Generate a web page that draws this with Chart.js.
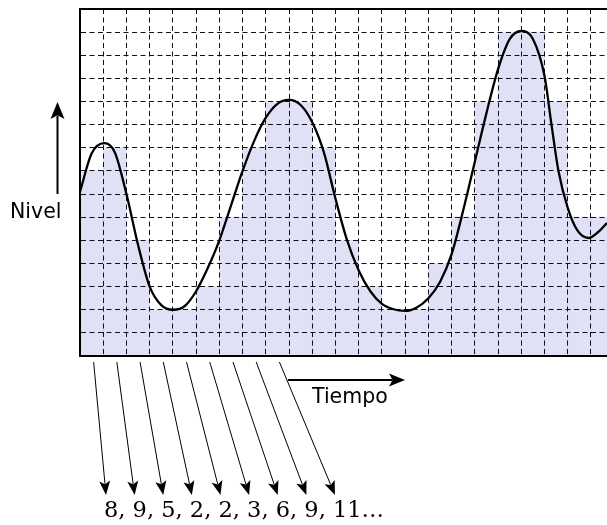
<!DOCTYPE html>
<html>
<head>
<meta charset="utf-8">
<script src="https://cdn.jsdelivr.net/npm/chart.js@4.4.1/dist/chart.umd.min.js"></script>
<style>
  html, body { margin: 0; padding: 0; background: #fff; }
  #wrap { width: 607px; height: 525px; position: relative; }
</style>
</head>
<body>
<div id="wrap"><canvas id="chart-sampling"></canvas></div>
<script>
// ============================================
// DATA
// ============================================

// quantised level of each time slot (one bar per grid column)
const columnLevels = [8, 9, 5, 2, 2, 3, 6, 9, 11, 11, 9, 5, 3, 2, 2, 4, 6, 11, 14, 14, 11, 6, 6];

// analogue signal (time in columns, level in grid steps)
const curveTime = [0, 0.5, 1.05, 1.5, 2.0, 2.5, 3.0, 3.5, 4.0,
    4.5, 5.0, 5.5, 6.0, 6.5, 7.0, 7.5, 8.0, 8.5, 9.0,
    9.5, 10.0, 10.5, 11.0, 11.5, 12.0, 12.5, 13.0, 13.5, 14.0,
    14.5, 15.0, 15.5, 16.0, 16.5, 17.0, 17.5, 18.0, 18.5, 19.0,
    19.5, 20.0, 20.3, 20.6, 21.0, 21.4, 21.9, 22.3, 22.69];
const curveLevel = [7.1, 8.75, 9.2, 8.8, 7.0, 4.8, 3.0, 2.2, 2.0,
    2.15, 2.8, 3.8, 5.0, 6.5, 8.0, 9.3, 10.3, 10.9, 11.07,
    10.85, 10.1, 8.8, 6.8, 5.0, 3.7, 2.8, 2.25, 2.02, 1.95,
    2.1, 2.5, 3.2, 4.4, 6.3, 8.4, 10.5, 12.4, 13.7, 14.05,
    13.7, 12.1, 10.0, 8.0, 6.4, 5.45, 5.1, 5.35, 5.75];

// values written under the chart, one per sampled column
const sampleLabels = ['8', '9', '5', '2', '2', '3', '6', '9', '11'];

const levelMax = 15;
const timeMax = 22.69;

// ============================================
// ANNOTATIONS (axis arrows, labels, sample arrows)
// ============================================

function drawHead(ctx, x1, y1, x2, y2, len, width) {
    const a = Math.atan2(y2 - y1, x2 - x1);
    ctx.save();
    ctx.translate(x2, y2);
    ctx.rotate(a);
    ctx.beginPath();
    ctx.moveTo(0, 0);
    ctx.lineTo(-len, -width / 2);
    ctx.lineTo(-len * 0.78, 0);
    ctx.lineTo(-len, width / 2);
    ctx.closePath();
    ctx.fill();
    ctx.restore();
}

function drawArrow(ctx, x1, y1, x2, y2, lw, len, width) {
    const d = Math.hypot(x2 - x1, y2 - y1);
    const k = (d - len * 0.8) / d;
    ctx.lineWidth = lw;
    ctx.beginPath();
    ctx.moveTo(x1, y1);
    ctx.lineTo(x1 + (x2 - x1) * k, y1 + (y2 - y1) * k);
    ctx.stroke();
    drawHead(ctx, x1, y1, x2, y2, len, width);
}

const annotationPlugin = {
    id: 'samplingNotes',
    afterDraw(chart) {
        const ctx = chart.ctx;
        const area = chart.chartArea;
        const xs = chart.scales.x;
        ctx.save();
        ctx.fillStyle = '#000';
        ctx.strokeStyle = '#000';

        // level axis
        ctx.font = "20.5px 'DejaVu Sans'";
        ctx.textBaseline = 'alphabetic';
        ctx.textAlign = 'left';
        ctx.fillText('Nivel', 10, 218);
        drawArrow(ctx, 57.5, 194, 57.5, 102, 2, 17, 14);

        // time axis
        ctx.fillText('Tiempo', 312, 403);
        drawArrow(ctx, 288, 380, 405, 380, 2, 16, 13);

        // digits and the arrows that feed them
        ctx.font = "22.5px 'DejaVu Serif'";
        const textX = 104;
        const text = sampleLabels.join(', ') + '\u2026';
        ctx.fillText(text, textX, 517);
        sampleLabels.forEach((lab, i) => {
            const prefix = sampleLabels.slice(0, i).join(', ') + (i > 0 ? ', ' : '');
            const tipX = textX + ctx.measureText(prefix).width + 2;
            const startX = xs.getPixelForValue(i + 0.5) + 2;
            drawArrow(ctx, startX, area.bottom + 6, tipX, 495, 1, 14, 11);
        });
        ctx.restore();
    }
};

// ============================================
// CHART
// ============================================

const gridDash = [5, 3.5];

function initializeChart() {
    const canvas = document.getElementById('chart-sampling');
    new Chart(canvas, {
        type: 'bar',
        data: {
            datasets: [
                {
                    type: 'line',
                    label: 'Señal',
                    data: curveTime.map((t, i) => ({ x: t, y: curveLevel[i] })),
                    borderColor: '#000',
                    borderWidth: 2.3,
                    pointRadius: 0,
                    cubicInterpolationMode: 'monotone',
                    fill: false,
                    order: 0
                },
                {
                    type: 'bar',
                    label: 'Nivel cuantizado',
                    data: columnLevels.map((v, i) => ({ x: i + 0.5, y: v })),
                    backgroundColor: 'rgba(0, 0, 170, 0.118)',
                    borderWidth: 0,
                    barPercentage: 1,
                    categoryPercentage: 1,
                    order: 1
                }
            ]
        },
        options: {
            responsive: true,
            maintainAspectRatio: false,
            animation: false,
            layout: { padding: { left: 80, top: 9, right: 0, bottom: 169 } },
            plugins: {
                legend: { display: false },
                tooltip: { enabled: false }
            },
            scales: {
                x: {
                    type: 'linear',
                    min: 0,
                    max: timeMax,
                    offset: false,
                    ticks: { display: false, stepSize: 1, includeBounds: false },
                    grid: { offset: false, color: '#111', lineWidth: 1, drawTicks: false },
                    border: { display: true, color: '#000', width: 2, dash: gridDash, z: 1 }
                },
                x2: {
                    type: 'linear',
                    position: 'top',
                    min: 0,
                    max: 1,
                    ticks: { display: false },
                    grid: { drawOnChartArea: false, drawTicks: false },
                    border: { display: true, color: '#000', width: 2, z: 1 }
                },
                y: {
                    min: 0,
                    max: levelMax,
                    ticks: { display: false, stepSize: 1 },
                    grid: { color: '#111', lineWidth: 1, drawTicks: false },
                    border: { display: true, color: '#000', width: 2, dash: gridDash, z: 1 }
                }
            }
        },
        plugins: [annotationPlugin]
    });
}

document.addEventListener('DOMContentLoaded', initializeChart);
</script>
</body>
</html>
